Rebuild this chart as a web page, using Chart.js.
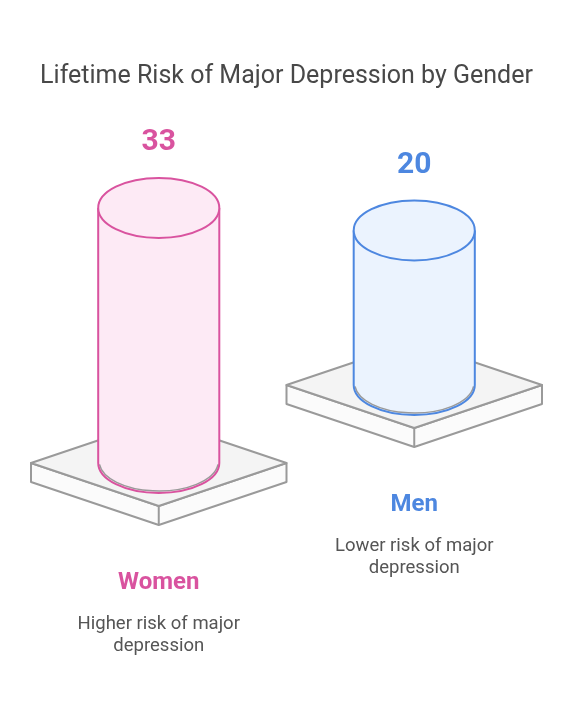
<!DOCTYPE html>
<html>
<head>
<meta charset="utf-8">
<script src="https://cdn.jsdelivr.net/npm/chart.js@4.4.1/dist/chart.umd.min.js"></script>
<style>
  html, body { margin: 0; padding: 0; background: #fff; }
  #wrap { width: 573px; height: 718px; }
</style>
</head>
<body>
<div id="wrap"><canvas id="bar-chart"></canvas></div>
<script>
const categories = ['Women', 'Men'];
const riskValues = [33, 20];
const descriptions = [
    ['Higher risk of major', 'depression'],
    ['Lower risk of major', 'depression']
];

// look of each column
const strokeColors = ['#d9539f', '#4d87e0'];
const fillColors = ['#fdeaf5', '#ebf3fe'];
const baseLift = [0, 78];   // men's column stands on a raised platform

const cylinders = {
    id: 'cylinders',
    afterDatasetsDraw(chart) {
        const ctx = chart.ctx;
        const meta = chart.getDatasetMeta(0);
        const xScale = chart.scales.x;
        const halfCat = (xScale.getPixelForValue(1) - xScale.getPixelForValue(0)) / 2;
        ctx.save();
        meta.data.forEach((bar, i) => {
            const cx = bar.x;
            const rx = bar.width / 2;
            const ry = 30;
            const bottom = bar.base - baseLift[i];
            const top = bottom - (bar.base - bar.y);
            const pw = halfCat, ph = 43, th = 19;

            // platform
            ctx.lineWidth = 2;
            ctx.strokeStyle = '#9a9a9a';
            ctx.lineJoin = 'round';
            ctx.fillStyle = '#fbfbfb';
            ctx.beginPath();
            ctx.moveTo(cx - pw, bottom);
            ctx.lineTo(cx, bottom + ph);
            ctx.lineTo(cx + pw, bottom);
            ctx.lineTo(cx + pw, bottom + th);
            ctx.lineTo(cx, bottom + ph + th);
            ctx.lineTo(cx - pw, bottom + th);
            ctx.closePath();
            ctx.fill();
            ctx.stroke();
            ctx.beginPath();
            ctx.moveTo(cx, bottom + ph);
            ctx.lineTo(cx, bottom + ph + th);
            ctx.stroke();
            ctx.fillStyle = '#f4f4f4';
            ctx.beginPath();
            ctx.moveTo(cx - pw, bottom);
            ctx.lineTo(cx, bottom - ph);
            ctx.lineTo(cx + pw, bottom);
            ctx.lineTo(cx, bottom + ph);
            ctx.closePath();
            ctx.fill();
            ctx.stroke();

            // cylinder body
            ctx.fillStyle = fillColors[i];
            ctx.beginPath();
            ctx.moveTo(cx - rx, top);
            ctx.lineTo(cx - rx, bottom);
            ctx.ellipse(cx, bottom, rx, ry, 0, Math.PI, 0, true);
            ctx.lineTo(cx + rx, top);
            ctx.closePath();
            ctx.fill();

            ctx.strokeStyle = '#9a9a9a';
            ctx.lineWidth = 1.5;
            ctx.beginPath();
            ctx.ellipse(cx, bottom - 1.5, rx - 1, ry - 0.5, 0, 0.1, Math.PI - 0.1);
            ctx.stroke();

            ctx.strokeStyle = strokeColors[i];
            ctx.lineWidth = 2;
            ctx.beginPath();
            ctx.moveTo(cx - rx, top);
            ctx.lineTo(cx - rx, bottom);
            ctx.ellipse(cx, bottom, rx, ry, 0, Math.PI, 0, true);
            ctx.lineTo(cx + rx, top);
            ctx.stroke();
            ctx.beginPath();
            ctx.ellipse(cx, top, rx, ry, 0, 0, Math.PI * 2);
            ctx.fill();
            ctx.stroke();

            // value above, names and notes below
            ctx.textAlign = 'center';
            ctx.textBaseline = 'middle';
            ctx.fillStyle = strokeColors[i];
            ctx.font = 'bold 30px Roboto';
            ctx.fillText(String(riskValues[i]), cx, top - ry - 35);
            ctx.font = 'bold 24px Roboto';
            ctx.fillText(categories[i], cx, bottom + 120);
            ctx.fillStyle = '#555555';
            ctx.font = '18.5px Roboto';
            descriptions[i].forEach((line, k) => {
                ctx.fillText(line, cx, bottom + 161 + k * 22);
            });
        });
        ctx.restore();
    }
};

new Chart(document.getElementById('bar-chart'), {
    type: 'bar',
    data: {
        labels: categories,
        datasets: [{
            data: riskValues,
            backgroundColor: 'rgba(0,0,0,0)',
            borderWidth: 0,
            categoryPercentage: 1,
            barPercentage: 0.474
        }]
    },
    options: {
        responsive: true,
        maintainAspectRatio: false,
        animation: false,
        layout: { padding: { left: 31, right: 31, top: 0, bottom: 255 } },
        scales: {
            x: { display: false },
            y: { display: false, min: 0, max: 48 }
        },
        plugins: {
            legend: { display: false },
            tooltip: { enabled: false },
            title: {
                display: true,
                text: 'Lifetime Risk of Major Depression by Gender',
                color: '#484848',
                font: { family: 'Roboto', size: 25, weight: 'normal' },
                padding: { top: 62, bottom: 0 }
            }
        }
    },
    plugins: [cylinders]
});
</script>
</body>
</html>
